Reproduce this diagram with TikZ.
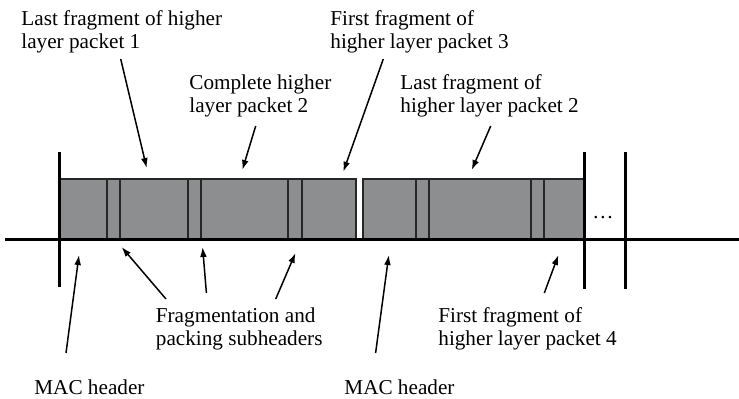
\documentclass[tikz,border=0pt]{standalone}
\usepackage{fontspec}
\setmainfont{Liberation Serif}
\usetikzlibrary{arrows.meta,fit}
\definecolor{pdugray}{RGB}{141,142,144}
\tikzset{
  field/.style={draw=black!85, fill=pdugray, line width=0.9pt, inner sep=0pt},
  note/.style={align=left, inner sep=0pt, anchor=base west, font=\fontsize{10.6}{11.8}\selectfont},
  arrow/.style={-{Latex[length=5pt,width=3.4pt]}, line width=0.75pt},
  axis/.style={line width=1.5pt}
}

\begin{document}
\begin{tikzpicture}[x=0.5pt, y=-0.5pt]
\useasboundingbox (0,0) rectangle (739,398);
% first MAC PDU
\node[field, fit={(59,179) (107,239)}] (mac1) {};
\node[field, fit={(107,179) (120,239)}] (sh11) {};
\node[field, fit={(120,179) (188,239)}] (p11) {};
\node[field, fit={(188,179) (201,239)}] (sh12) {};
\node[field, fit={(201,179) (288,239)}] (p12) {};
\node[field, fit={(288,179) (302,239)}] (sh13) {};
\node[field, fit={(302,179) (356,239)}] (p13) {};
% second MAC PDU
\node[field, fit={(363,179) (416,239)}] (mac2) {};
\node[field, fit={(416,179) (429,239)}] (sh21) {};
\node[field, fit={(429,179) (531,239)}] (p21) {};
\node[field, fit={(531,179) (544,239)}] (sh22) {};
\node[field, fit={(544,179) (584,239)}] (p22) {};
\node[anchor=base, inner sep=0pt, font=\fontsize{10.6}{11.8}\selectfont] (more) at (603,218) {\dots};

% time axis and frame limits
\coordinate (axl) at (5,239);
\coordinate (axr) at (739,239);
\draw[axis] (axl) -- (axr);
\coordinate (f1t) at (59,152);  \coordinate (f1b) at (59,287);
\coordinate (f2t) at (584,152); \coordinate (f2b) at (584,289);
\coordinate (f3t) at (625,152); \coordinate (f3b) at (625,289);
\draw[axis] (f1t) -- (f1b);
\draw[axis] (f2t) -- (f2b);
\draw[axis] (f3t) -- (f3b);

% labels above (placed at the baseline of their last line)
\node[note] (lastone) at (21,48.6) {Last fragment of higher\\layer packet 1};
\node[note] (compl) at (189,112.6) {Complete higher\\layer packet 2};
\node[note] (firstthree) at (330,48.6) {First fragment of\\higher layer packet 3};
\node[note] (lasttwo) at (400,112.6) {Last fragment of\\higher layer packet 2};
% labels below
\node[note] (subhdr) at (155.5,345.6) {Fragmentation and\\packing subheaders};
\node[note] (firstfour) at (438,345.6) {First fragment of\\higher layer packet 4};
\node[note] (machdr1) at (34,394) {MAC header};
\node[note] (machdr2) at (344,394) {MAC header};

% arrow ends
\coordinate (a1) at (120.7,59);  \coordinate (a1h) at (146.7,168);
\coordinate (a2) at (255.7,126); \coordinate (a2h) at (242.3,170);
\coordinate (a3) at (383.3,59);  \coordinate (a3h) at (343.3,171.7);
\coordinate (a4) at (490.7,126); \coordinate (a4h) at (471.7,170);
\coordinate (b1) at (66,353);    \coordinate (b1h) at (79,255);
\coordinate (b2) at (166,299);   \coordinate (b2h) at (121.6,247);
\coordinate (b3) at (206.4,293); \coordinate (b3h) at (202.6,247);
\coordinate (b4) at (275.7,299); \coordinate (b4h) at (295.5,253);
\coordinate (b5) at (375.6,353); \coordinate (b5h) at (388.8,255);
\coordinate (b6) at (544.3,293); \coordinate (b6h) at (558.4,255);

\draw[arrow] (a1) -- (a1h);
\draw[arrow] (a2) -- (a2h);
\draw[arrow] (a3) -- (a3h);
\draw[arrow] (a4) -- (a4h);
\draw[arrow] (b1) -- (b1h);
\draw[arrow] (b2) -- (b2h);
\draw[arrow] (b3) -- (b3h);
\draw[arrow] (b4) -- (b4h);
\draw[arrow] (b5) -- (b5h);
\draw[arrow] (b6) -- (b6h);
\end{tikzpicture}
\end{document}
